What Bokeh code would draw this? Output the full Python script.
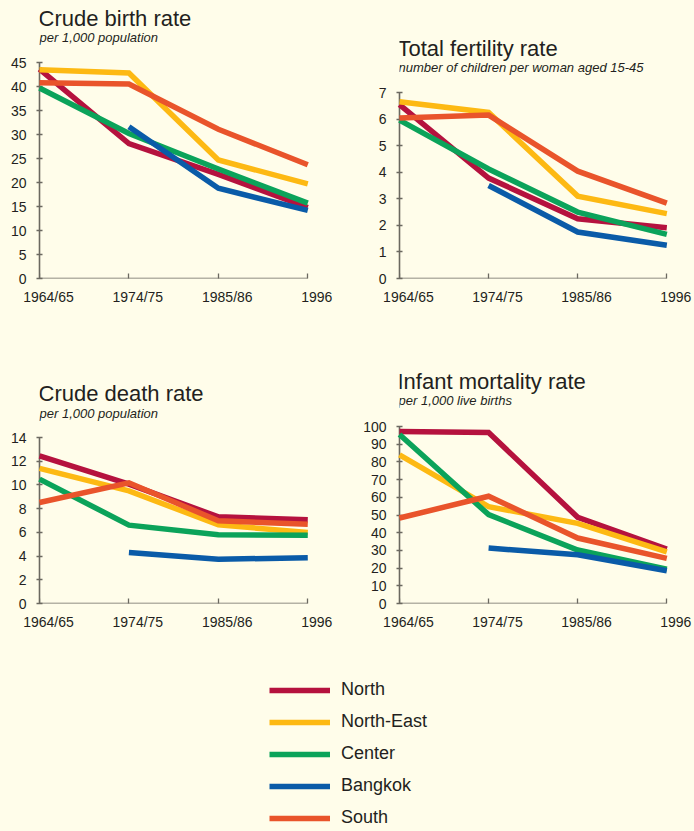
from bokeh.plotting import figure
from bokeh.models import Range1d, FixedTicker, Label, Legend, LegendItem, LinearAxis
from bokeh.layouts import column, row
from bokeh.embed import file_html
from bokeh.resources import INLINE

# ---------------- data ----------------
periods = ["1964/65", "1974/75", "1985/86", "1996"]
regions = ["North", "North-East", "Center", "Bangkok", "South"]
region_colors = ["#B5123E", "#FDB913", "#0BA35A", "#0A5BA8", "#E9542B"]

# Crude birth rate (per 1,000 population)
cbr_north = [43.6, 28.1, 21.7, 14.8]
cbr_northeast = [43.5, 42.8, 24.7, 19.7]
cbr_center = [39.7, 30.2, 22.8, 15.7]
cbr_bangkok = [None, 31.6, 18.8, 14.2]
cbr_south = [40.8, 40.5, 31.1, 23.7]

# Total fertility rate (children per woman aged 15-45)
tfr_north = [6.54, 3.78, 2.25, 1.91]
tfr_northeast = [6.65, 6.25, 3.10, 2.44]
tfr_center = [5.96, 4.12, 2.50, 1.66]
tfr_bangkok = [None, 3.50, 1.75, 1.25]
tfr_south = [6.04, 6.15, 4.04, 2.84]

# Crude death rate (per 1,000 population)
cdr_north = [12.45, 10.06, 7.31, 7.06]
cdr_northeast = [11.39, 9.50, 6.63, 5.99]
cdr_center = [10.49, 6.61, 5.79, 5.76]
cdr_bangkok = [None, 4.30, 3.74, 3.85]
cdr_south = [8.52, 10.18, 6.97, 6.69]

# Infant mortality rate (per 1,000 live births)
imr_north = [97.2, 96.6, 48.7, 30.8]
imr_northeast = [84.0, 54.7, 45.3, 29.2]
imr_center = [95.5, 50.2, 30.2, 19.4]
imr_bangkok = [None, 31.3, 27.5, 18.5]
imr_south = [48.3, 60.6, 37.0, 25.5]

BG = "#FFFDEA"
TXT = "#231F20"
AX = "#6B6960"
FONT = "Liberation Sans"

XPAD = 0.12      # extra room right of the last period (in period units)
LSHIFT = 0.10    # tick labels sit slightly right of their ticks in the original


def make_chart(title, subtitle, series, ymax, ystep, width, height,
               bl, fw, bb, axis_px, title_y, sub_y, toff):
    """axis_px: pixel distance from the frame top down to the y = ymax tick."""
    n = len(periods) - 1
    fh = height - bb
    ytop = ymax * fh / (fh - axis_px)
    p = figure(width=width, height=height,
               x_range=Range1d(0, n + XPAD), y_range=Range1d(0, ytop),
               output_backend="svg", toolbar_location=None,
               min_border_left=bl, min_border_top=0,
               min_border_right=width - bl - fw, min_border_bottom=bb)
    p.background_fill_color = BG
    p.border_fill_color = BG
    p.outline_line_color = None
    p.xgrid.visible = False
    p.ygrid.visible = False

    ticks = list(range(len(periods)))
    labels = {i: lab for i, lab in enumerate(periods)}

    # main x axis: line and ticks only, pinned at y = 0
    xa = p.xaxis[0]
    xa.ticker = FixedTicker(ticks=ticks)
    xa.bounds = (0, n)
    xa.fixed_location = 0
    xa.major_label_text_color = None
    xa.major_label_standoff = 0
    xa.axis_line_color = AX
    xa.axis_line_width = 1.6
    xa.major_tick_line_color = AX
    xa.major_tick_line_width = 1.3
    xa.minor_tick_line_color = None
    xa.major_tick_in = 5
    xa.major_tick_out = 2

    # label axis, on a range shifted so labels sit a little right of the ticks
    p.extra_x_ranges = {"lab": Range1d(-LSHIFT, n + XPAD - LSHIFT)}
    la = LinearAxis(x_range_name="lab", ticker=FixedTicker(ticks=ticks),
                    major_label_overrides=labels,
                    axis_line_color=None, major_tick_line_color=None,
                    minor_tick_line_color=None, major_tick_in=0, major_tick_out=0,
                    major_label_standoff=10,
                    major_label_text_font=FONT, major_label_text_font_size="14px",
                    major_label_text_color=TXT)
    p.add_layout(la, "below")

    ya = p.yaxis[0]
    ya.ticker = FixedTicker(ticks=list(range(0, ymax + 1, ystep)))
    ya.bounds = (0, ymax)
    ya.axis_line_color = AX
    ya.axis_line_width = 1.6
    ya.major_tick_line_color = AX
    ya.major_tick_line_width = 1.3
    ya.minor_tick_line_color = None
    ya.major_label_text_font = FONT
    ya.major_label_text_font_size = "14px"
    ya.major_label_text_color = TXT
    ya.major_tick_in = 3
    ya.major_tick_out = 3
    ya.major_label_standoff = 10

    for name, col, vals in zip(regions, region_colors, series):
        xs = [i for i, v in enumerate(vals) if v is not None]
        ys = [v for v in vals if v is not None]
        r = p.line(xs, ys, line_color=col, line_width=5.5, line_join="miter")
        r.level = "overlay"

    p.add_layout(Label(x=toff, y=fh - title_y, x_units="screen", y_units="screen",
                       text=title, text_font=FONT, text_font_size="22px",
                       text_color=TXT, text_baseline="middle", text_align="left"))
    p.add_layout(Label(x=toff + 1, y=fh - sub_y, x_units="screen", y_units="screen",
                       text=subtitle, text_font=FONT, text_font_size="13px",
                       text_font_style="italic", text_color=TXT,
                       text_baseline="middle", text_align="left"))
    return p


# row 1: height 330 ; row 2: height 305 (starts at y = 330)
pA = make_chart("Crude birth rate", "per 1,000 population",
                [cbr_north, cbr_northeast, cbr_center, cbr_bangkok, cbr_south],
                45, 5, 348, 330, 39, 279, 52, 62, 18, 37, -1)
pB = make_chart("Total fertility rate", "number of children per woman aged 15-45",
                [tfr_north, tfr_northeast, tfr_center, tfr_bangkok, tfr_south],
                7, 1, 346, 330, 51, 278, 52, 92, 48, 67, -2)
pC = make_chart("Crude death rate", "per 1,000 population",
                [cdr_north, cdr_northeast, cdr_center, cdr_bangkok, cdr_south],
                14, 2, 348, 305, 39, 279, 32, 107, 63, 83, -1)
pD = make_chart("Infant mortality rate", "per 1,000 live births",
                [imr_north, imr_northeast, imr_center, imr_bangkok, imr_south],
                100, 10, 346, 305, 51, 278, 32, 96, 51, 70, -2)

# ---------------- legend ----------------
pL = figure(width=694, height=194, x_range=Range1d(0, 1), y_range=Range1d(0, 1),
            output_backend="svg", toolbar_location=None,
            x_axis_location=None, y_axis_location=None,
            min_border_left=0, min_border_right=0, min_border_top=0, min_border_bottom=0)
pL.background_fill_color = BG
pL.border_fill_color = BG
pL.outline_line_color = None
pL.xgrid.visible = False
pL.ygrid.visible = False
items = []
for name, col in zip(regions, region_colors):
    # legend-only renderer: its one segment lies outside the visible range
    r = pL.line(x=[-5, -4], y=[-5, -5], line_color=col, line_width=5.5)
    items.append(LegendItem(label=name, renderers=[r]))
legend = Legend(items=items, location=(269, 1), glyph_width=61, glyph_height=20,
                label_height=20, spacing=11, label_standoff=11, padding=0, margin=0,
                border_line_color=None, background_fill_alpha=0,
                label_text_font=FONT, label_text_font_size="18px",
                label_text_color=TXT)
pL.add_layout(legend)

layout = column(row(pA, pB), row(pC, pD), pL)

html = file_html(layout, INLINE)
html = html.replace("</head>", "<style>html,body{background-color:%s;}</style></head>" % BG, 1)
open("out.html", "w").write(html)
